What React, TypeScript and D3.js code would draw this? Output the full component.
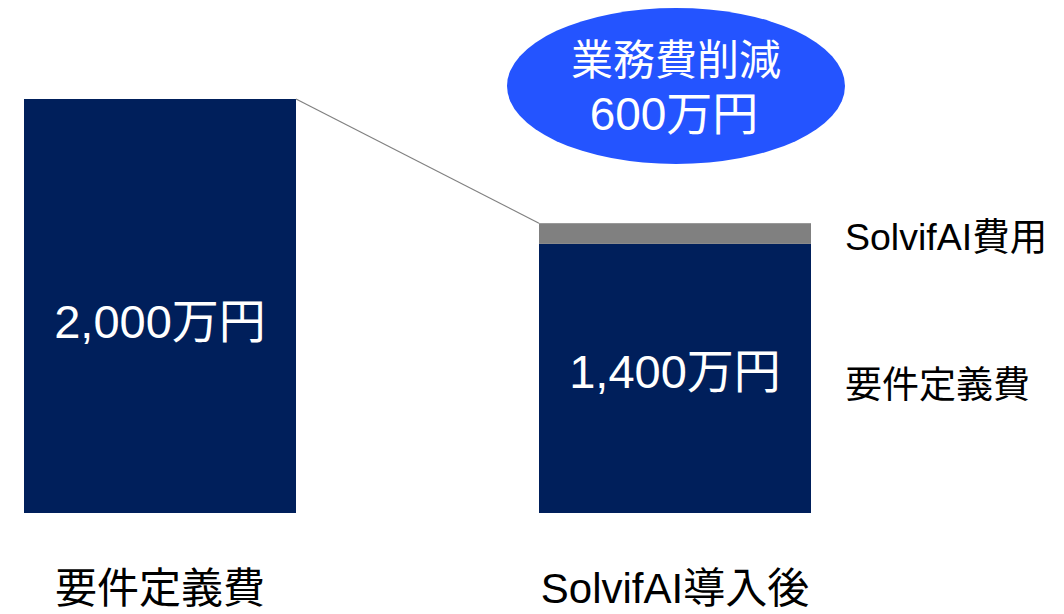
import React from "react";
import * as d3 from "d3";

const categories = ["要件定義費", "SolvifAI導入後"];
const baseValues = [2000, 1300];
const aiValues = [0, 100];
const barLabels = ["2,000万円", "1,400万円"];
const legendLabels = ["SolvifAI費用", "要件定義費"];
const calloutLines = ["業務費削減", "600万円"];

const W = 1064;
const H = 614;
const NAVY = "#001F5B";
const GRAY = "#808080";
const BLUE = "#2454FF";
const FONT = "'Liberation Sans', Arial, 'Noto Sans CJK JP', sans-serif";

export default function App() {
  const x = d3.scaleBand<string>().domain(categories).range([24, 811]).paddingInner(1 - 272 / 515).paddingOuter(0);
  const y = d3.scaleLinear().domain([0, 2000]).range([513, 99]);
  const bw = x.bandwidth();

  const x0 = x(categories[0])!;
  const x1 = x(categories[1])!;
  const top0 = y(baseValues[0] + aiValues[0]);
  const top1 = y(baseValues[1] + aiValues[1]);

  return (
    <svg width={W} height={H} style={{ position: "absolute", left: 0, top: 0, display: "block", background: "#fff" }} fontFamily={FONT}>
      {categories.map((c, i) => (
        <g key={c}>
          <rect x={x(c)!} y={y(baseValues[i])} width={bw} height={y(0) - y(baseValues[i])} fill={NAVY} />
          {aiValues[i] > 0 && (
            <rect x={x(c)!} y={y(baseValues[i] + aiValues[i])} width={bw} height={y(baseValues[i]) - y(baseValues[i] + aiValues[i])} fill={GRAY} />
          )}
          <text x={x(c)! + bw / 2} y={603} textAnchor="middle" fontSize={42} fill="#000">{c}</text>
        </g>
      ))}
      <text x={x0 + bw / 2} y={y(baseValues[0] / 2) + 32} textAnchor="middle" fontSize={47} fill="#fff">{barLabels[0]}</text>
      <text x={x1 + bw / 2} y={y(baseValues[1] / 2) + 10} textAnchor="middle" fontSize={47} fill="#fff">{barLabels[1]}</text>

      <line x1={x0 + bw} y1={top0} x2={x1} y2={top1} stroke={GRAY} strokeWidth={1.2} />

      <text x={845} y={250} fontSize={37.5} fill="#000">{legendLabels[0]}</text>
      <text x={845} y={398} fontSize={37} fill="#000">{legendLabels[1]}</text>

      <ellipse cx={676} cy={86} rx={169} ry={78} fill={BLUE} />
      <text x={676} y={75} textAnchor="middle" fontSize={42} fill="#fff">{calloutLines[0]}</text>
      <text x={674} y={130} textAnchor="middle" fontSize={46} fill="#fff">{calloutLines[1]}</text>
    </svg>
  );
}
